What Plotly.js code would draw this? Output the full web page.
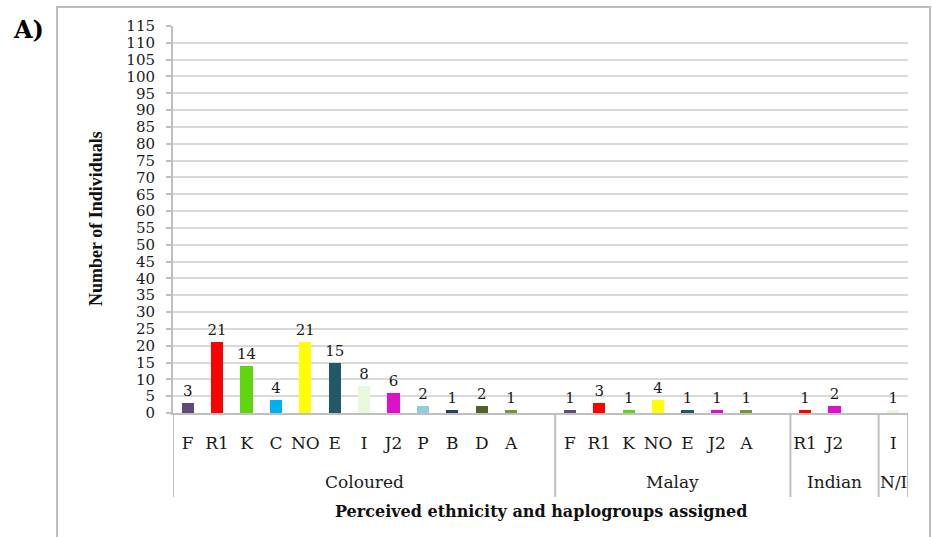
<!DOCTYPE html>
<html><head><meta charset="utf-8">
<script src="https://cdn.plot.ly/plotly-3.0.1.min.js"></script>
<style>html,body{margin:0;padding:0;background:#fff}#chart{width:932px;height:537px}</style>
</head><body><div id="chart"></div>
<script>
// ---- data ----
const groups = ["Coloured", "Malay", "Indian", "N/I"];
const colouredHaplogroups = ["F", "R1", "K", "C", "NO", "E", "I", "J2", "P", "B", "D", "A"];
const colouredCounts = [3, 21, 14, 4, 21, 15, 8, 6, 2, 1, 2, 1];
const malayHaplogroups = ["F", "R1", "K", "NO", "E", "J2", "A"];
const malayCounts = [1, 3, 1, 4, 1, 1, 1];
const indianHaplogroups = ["R1", "J2"];
const indianCounts = [1, 2];
const niHaplogroups = ["I"];
const niCounts = [1];
const yTickValues = [0, 5, 10, 15, 20, 25, 30, 35, 40, 45, 50, 55, 60, 65, 70, 75, 80, 85, 90, 95, 100, 105, 110, 115];

// ---- styles ----
const haploColors = {
  F: "#604A7B", R1: "#FF0000", K: "#5FD510", C: "#00B0F0", NO: "#FFFF00",
  E: "#215968", I: "#E8F8DA", J2: "#DD11CC", P: "#92CDDC", B: "#254061",
  D: "#4F6228", A: "#77933C"
};
const serif = "DejaVu Serif, Liberation Serif, serif";
const gray = "#BFBFBF";
const textColor = "#1a1a1a";

const groupData = [
  [colouredHaplogroups, colouredCounts],
  [malayHaplogroups, malayCounts],
  [indianHaplogroups, indianCounts],
  [niHaplogroups, niCounts]
];

let xs = [], ys = [], labels = [], colors = [], slot = 0;
const dividers = [-0.5], centers = [];
groupData.forEach((g, gi) => {
  const start = slot;
  g[0].forEach((h, i) => {
    xs.push(slot); ys.push(g[1][i]); labels.push(h); colors.push(haploColors[h]); slot++;
  });
  if (gi < groupData.length - 1) slot++;
  const end = slot - 0.5;
  dividers.push(end);
  centers.push((start - 0.5 + end) / 2);
});
const xMax = slot - 0.5;

const plotTop = 26, plotBottom = 413, plotLeft = 173, plotRight = 908;
const ph = plotBottom - plotTop, pw = plotRight - plotLeft;
const py = p => (plotBottom - p) / ph;
const px = p => (p - plotLeft) / pw;

const shapes = dividers.map(d => ({
  type: "line", xref: "x", yref: "paper", x0: d, x1: d, y0: 0, y1: py(497),
  line: {color: gray, width: 2}
}));
shapes.push({
  type: "rect", xref: "paper", yref: "paper",
  x0: px(57), x1: px(930), y0: py(7), y1: py(560),
  line: {color: "#BDBDBD", width: 2}, fillcolor: "rgba(0,0,0,0)", layer: "below"
});

const annotations = groups.map((g, i) => ({
  text: g, xref: "x", yref: "paper", x: centers[i], y: py(482),
  xanchor: "center", yanchor: "middle", showarrow: false,
  font: {family: serif, size: 17, color: textColor}
}));
annotations.push({
  text: "<b>Perceived ethnicity and haplogroups assigned</b>", xref: "paper", yref: "paper",
  x: 0.5, y: py(511), xanchor: "center", yanchor: "middle", showarrow: false,
  font: {family: serif, size: 16, color: "#111"}
});
annotations.push({
  text: "<b>Number of Individuals</b>", xref: "paper", yref: "paper",
  x: px(96), y: py(219), xanchor: "center", yanchor: "middle", showarrow: false, textangle: -90,
  font: {family: "Liberation Serif, serif", size: 18, color: "#111"}
});
annotations.push({
  text: "<b>A)</b>", xref: "paper", yref: "paper",
  x: px(28), y: py(30), xanchor: "center", yanchor: "middle", showarrow: false,
  font: {family: serif, size: 24, color: "#000"}
});

const trace = {
  type: "bar", x: xs, y: ys, width: 0.42,
  marker: {color: colors, line: {width: 0}},
  text: ys.map(String), textposition: "outside", constraintext: "none", cliponaxis: false,
  textfont: {family: serif, size: 15, color: textColor},
  hoverinfo: "none"
};

const layout = {
  width: 932, height: 537,
  margin: {l: plotLeft, r: 932 - plotRight, t: plotTop, b: 537 - plotBottom},
  paper_bgcolor: "#fff", plot_bgcolor: "#fff", showlegend: false,
  bargap: 0,
  xaxis: {
    range: [-0.5, xMax], tickmode: "array", tickvals: xs, ticktext: labels,
    showgrid: false, zeroline: false, showline: true, linecolor: gray, linewidth: 2,
    ticks: "", ticklabelstandoff: 14,
    tickfont: {family: serif, size: 17, color: textColor}, fixedrange: true
  },
  yaxis: {
    range: [0, 115], tickmode: "array", tickvals: yTickValues,
    showgrid: true, gridcolor: "#D9D9D9", gridwidth: 2, zeroline: false,
    showline: true, linecolor: gray, linewidth: 2,
    ticks: "outside", ticklen: 5, tickcolor: gray, tickwidth: 2, ticklabelstandoff: 8,
    tickfont: {family: serif, size: 15, color: textColor}, fixedrange: true
  },
  shapes: shapes, annotations: annotations
};

Plotly.newPlot("chart", [trace], layout, {displayModeBar: false, staticPlot: true});
</script></body></html>
